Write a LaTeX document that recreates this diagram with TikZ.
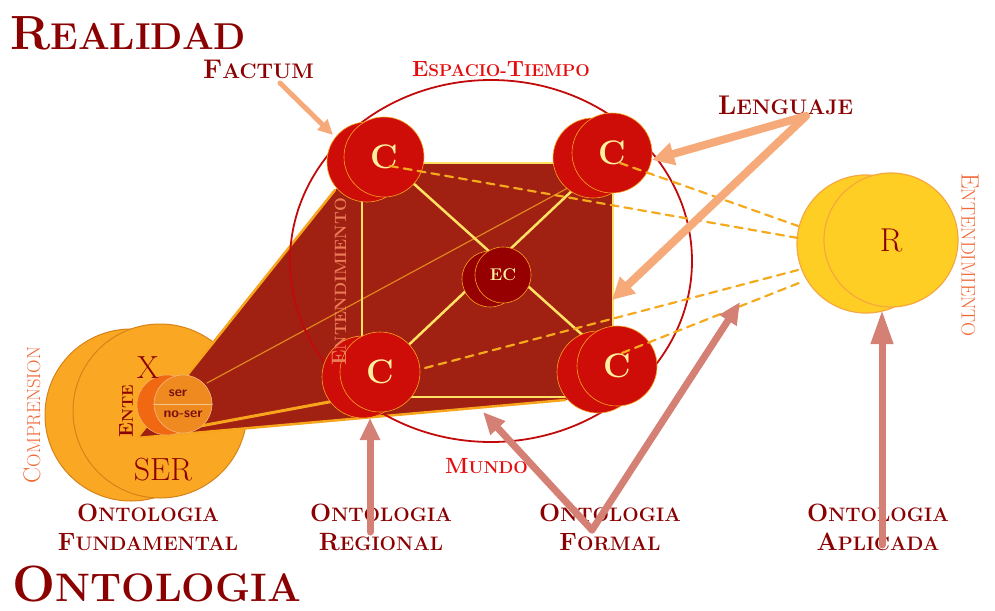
\documentclass[tikz,border=0pt]{standalone}
\usepackage{fontspec}
\usepackage{graphicx}
\usetikzlibrary{arrows.meta, calc, positioning}
\definecolor{realred}{RGB}{139, 0, 0}
\definecolor{brightred}{RGB}{228, 12, 12}
\definecolor{boxred}{RGB}{160, 32, 18}
\definecolor{cred}{RGB}{206, 12, 8}
\definecolor{ecred}{RGB}{150, 0, 0}
\definecolor{cream}{RGB}{255, 240, 160}
\definecolor{lineyellow}{RGB}{255, 226, 100}
\definecolor{dashorange}{RGB}{244, 170, 28}
\definecolor{coneorange}{RGB}{248, 165, 30}
\definecolor{serorange}{RGB}{250, 168, 36}
\definecolor{serborder}{RGB}{214, 130, 24}
\definecolor{rgold}{RGB}{255, 206, 36}
\definecolor{rborder}{RGB}{246, 168, 64}
\definecolor{salmon}{RGB}{246, 170, 122}
\definecolor{rosy}{RGB}{212, 128, 116}
\definecolor{entorange}{RGB}{240, 102, 52}
\definecolor{entsalmon}{RGB}{236, 124, 88}
\definecolor{seredge}{RGB}{240, 104, 18}
\definecolor{noser}{RGB}{238, 138, 32}
\definecolor{sertext}{RGB}{122, 16, 16}
\newcommand{\scw}[2]{#1\scalebox{0.78}{#2}}

\begin{document}
\begin{tikzpicture}[x=1pt, y=-1pt, line cap=round, line join=round, >=Triangle,
    every node/.style={inner sep=0pt},
    title/.style={text=realred, font=\bfseries\fontsize{48}{48}\selectfont},
    tag/.style={text=realred, font=\bfseries\fontsize{27}{27}\selectfont},
    redtag/.style={text=brightred, font=\bfseries\fontsize{22}{22}\selectfont},
    onto/.style={text=realred, font=\bfseries\fontsize{25}{29}\selectfont, align=center},
    sidetag/.style={text=entorange, font=\fontsize{24}{24}\selectfont},
    cback/.style={fill=cred, draw=coneorange, line width=0.6pt},
    cfront/.style={circle, minimum size=80pt, fill=cred, draw=coneorange, line width=0.6pt,
        text=cream, font=\bfseries\fontsize{34}{34}\selectfont},
    yline/.style={draw=lineyellow, line width=2.5pt},
    dashline/.style={draw=dashorange, line width=2.2pt, dash pattern=on 8pt off 6pt},
    ontoarrow/.style={draw=rosy, line width=7pt, -{Triangle[length=22pt, width=19pt]}},
    langarrow/.style={draw=salmon, line width=8pt, -{Triangle[length=22pt, width=22pt]}}]
    \useasboundingbox (0,0) rectangle (995,610);

    % ser
    \filldraw[fill=serorange, draw=serborder, line width=1pt] (131,415) circle [radius=86];
    \node[circle, minimum size=174pt, fill=serorange, draw=serborder, line width=1pt] (ser) at (160,411) {};

    % cone towards the world
    \coordinate (apex) at (137,438);
    \coordinate (conetop) at (335,190);
    \coordinate (conebot) at (565,400);
    \fill[boxred] (apex) -- (conetop) -- (372,163) -- (613,163) -- (613,397) -- (conebot) -- cycle;
    \draw[coneorange, line width=2.5pt] (conetop) -- (apex) -- (conebot);
    \draw[coneorange!75!boxred, line width=1.2pt] (207,383) -- (590,176);

    % mundo box
    \draw[yline] (362,163) rectangle (613,397);
    \draw[yline] (384,157) -- (617,366);
    \draw[yline] (612,153) -- (380,372);

    % espacio-tiempo
    \draw[brightred!85!black, line width=1.8pt] (491,261) ellipse [x radius=201, y radius=181];

    % ente
    \draw[coneorange, line width=3pt] (163,433) -- (345,399);
    \filldraw[fill=seredge, draw=noser!70!white, line width=0.6pt] (167,405) circle [radius=30];
    \node[circle, minimum size=58pt, fill=noser, draw=noser!60!white, line width=0.6pt] (ente) at (183,404) {};
    \draw[noser!50!white, line width=0.6pt] (ente.west) -- (ente.east);
    \node[text=sertext, font=\sffamily\bfseries\fontsize{14}{14}\selectfont] at (178,393) {ser};
    \node[text=sertext, font=\sffamily\bfseries\fontsize{14}{14}\selectfont] at (183,414) {no-ser};

    % c
    \filldraw[cback] (367,162) circle [radius=40];
    \node[cfront] (c1) at (384,157) {C};
    \filldraw[cback] (593,158) circle [radius=40];
    \node[cfront] (c2) at (612,153) {C};
    \filldraw[cback] (363,377) circle [radius=41];
    \node[cfront] (c3) at (380,372) {C};
    \filldraw[cback] (598,372) circle [radius=41];
    \node[cfront] (c4) at (617,366) {C};
    \filldraw[fill=ecred, draw=coneorange, line width=0.6pt] (490,279) circle [radius=28];
    \node[circle, minimum size=56pt, fill=ecred, draw=coneorange, line width=0.6pt,
        text=cream, font=\bfseries\fontsize{17}{17}\selectfont] (ec) at (503,275) {EC};

    % r
    \filldraw[fill=rgold, draw=rborder, line width=1.2pt] (866,244) circle [radius=69];
    \node[circle, minimum size=134pt, fill=rgold, draw=rborder, line width=1.2pt,
        text=realred, font=\fontsize{33}{33}\selectfont] (r) at (891,240) {R};
    \coordinate (r1) at (798,226);
    \coordinate (r2) at (798,238);
    \coordinate (r3) at (798,270);
    \coordinate (r4) at (804,281);
    \coordinate (rfoot) at (882,310);

    \draw[dashline] ($(c1.center)+(6,9)$) -- (r2);
    \draw[dashline] ($(c2.center)+(8,10)$) -- (r1);
    \draw[dashline] ($(c3.center)+(45,-4)$) -- (r3);
    \draw[dashline] ($(c4.center)+(5,-13)$) -- (r4);

    % texts
    \node[title, anchor=base west] (realidad) at (10,50) {\scw{R}{EALIDAD}};
    \node[tag, anchor=base west] (factum) at (203,78) {\scw{F}{ACTUM}};
    \node[redtag, anchor=base west] (espacio) at (412,76) {\scw{E}{SPACIO-}\scw{T}{IEMPO}};
    \node[tag, anchor=base west] (lenguaje) at (718,114) {\scw{L}{ENGUAJE}};
    \node[redtag, anchor=base west] (mundo) at (445,473) {\scw{M}{UNDO}};
    \node[sidetag, rotate=90] (compr) at (32,415) {\scw{C}{OMPRENSION}};
    \node[sidetag, font=\fontsize{25}{25}\selectfont, rotate=-90] (entr) at (970,255) {\scw{E}{NTENDIMIENTO}};
    \node[sidetag, font=\bfseries\fontsize{21}{21}\selectfont, text=entsalmon, rotate=90] (entl) at (339,282) {\scw{E}{NTENDIMIENTO}};
    \node[text=realred, font=\bfseries\fontsize{20}{20}\selectfont, rotate=90] (entetxt) at (126,411) {\scw{E}{NTE}};
    \node[text=realred, font=\fontsize{32}{32}\selectfont] (x) at (148,368) {X};
    \node[text=realred, font=\fontsize{32}{32}\selectfont] (sertxt) at (163,470) {SER};

    \node[onto, anchor=north] (ofund) at (148,504) {\scw{O}{NTOLOGIA}\\\scw{F}{UNDAMENTAL}};
    \node[onto, anchor=north] (oreg) at (381,504) {\scw{O}{NTOLOGIA}\\\scw{R}{EGIONAL}};
    \node[onto, anchor=north] (oform) at (610,504) {\scw{O}{NTOLOGIA}\\\scw{F}{ORMAL}};
    \node[onto, anchor=north] (oapl) at (878,504) {\scw{O}{NTOLOGIA}\\\scw{A}{PLICADA}};
    \node[title, font=\bfseries\fontsize{51}{51}\selectfont, anchor=base west] (ontologia) at (12,601) {\scw{O}{NTOLOGIA}};

    % arrows
    \coordinate (factail) at (280,83);
    \coordinate (lengtail) at (806,116);
    \coordinate (regtail) at (370,532);
    \coordinate (formtail) at (592,530);
    \coordinate (apltail) at (882,545);
    \draw[draw=salmon, line width=5pt, -{Triangle[length=15pt, width=14pt]}] (factail) -- (333,135);
    \draw[langarrow] (lengtail) -- (652,160);
    \draw[langarrow] (lengtail) -- (612,300);
    \draw[ontoarrow] (regtail) -- (370,418);
    \draw[ontoarrow] (formtail) -- (483,412);
    \draw[ontoarrow] (formtail) -- (740,302);
    \draw[ontoarrow, -{Triangle[length=34pt, width=21pt]}] (apltail) -- (rfoot);
\end{tikzpicture}
\end{document}
